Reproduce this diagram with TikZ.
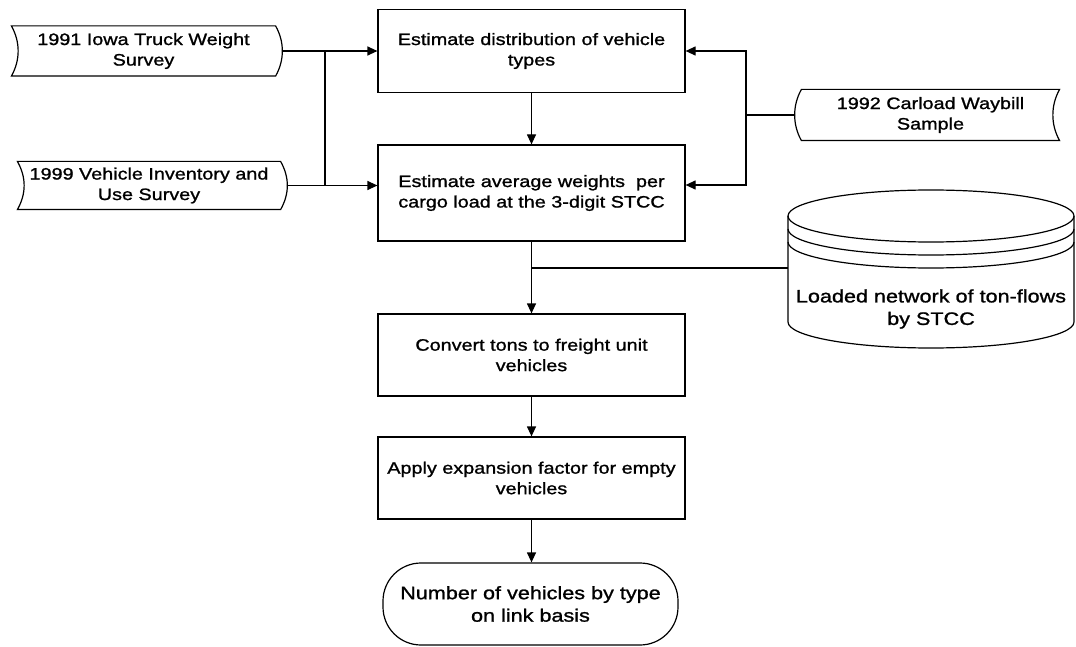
\documentclass[tikz,border=0pt]{standalone}
\usepackage{fontspec}
\setmainfont{Liberation Sans}[FakeStretch=1.2,FakeBold=1.2]
\usetikzlibrary{arrows.meta}

\newcommand\boxfont{\fontsize{16.5}{20.5}\selectfont}
\newcommand\bigfont{\fontsize{18}{22.5}\selectfont}
% outline of a data source, #2 = bulge of the sides
\newcommand\tapeshape[2]{%
  \draw (#1.north west) -- (#1.north east) .. controls +(#2,16) and +(#2,-16) .. (#1.south east)
    -- (#1.south west) .. controls +(#2,-16) and +(#2,16) .. (#1.north west) -- cycle;}

\tikzset{
  proc/.style={draw,minimum width=307pt,minimum height=83pt,align=center,font=\boxfont,inner sep=0pt},
  tape/.style={minimum width=263pt,minimum height=49pt,align=center,font=\boxfont,inner sep=0pt},
  flow/.style={-{Triangle[length=10pt,width=9pt]}},
}

\begin{document}
\begin{tikzpicture}[x=1pt,y=-1pt,line width=1.2pt]
\useasboundingbox (0,0) rectangle (1076,647);

%main column
\node[proc] (dist) at (531.5,51) {Estimate distribution of vehicle\\types};
\node[proc,minimum height=96pt] (wgt) at (531.5,193) {Estimate average weights~ per\\cargo load at the 3-digit STCC};
\node[proc,minimum height=82pt] (conv) at (531.5,355) {Convert tons to freight unit\\vehicles};
\node[proc,minimum height=82pt] (expn) at (531.5,478) {Apply expansion factor for empty\\vehicles};
\node[draw,rounded corners=38pt,minimum width=295pt,minimum height=82pt,align=center,font=\bigfont] (nveh) at (530.5,604) {Number of vehicles by type\\on link basis};

%data sources
\node[tape] (iowa) at (143.5,51) {1991 Iowa Truck Weight\\Survey};
\node[tape,minimum width=262pt,minimum height=47pt] (vius) at (149,185.5) {1999 Vehicle Inventory and\\Use Survey};
\node[tape,minimum width=257pt,minimum height=50pt] (wayb) at (930.5,115) {1992 Carload Waybill\\Sample};
\tapeshape{iowa}{9}
\tapeshape{vius}{9}
\tapeshape{wayb}{-9}

%ton-flow database
\draw (788,216) -- (788,322) arc[start angle=180,end angle=360,x radius=143pt,y radius=26pt] -- (1074,216);
\draw (931,216) ellipse [x radius=143pt,y radius=26pt];
\draw (788,229) arc[start angle=180,end angle=360,x radius=143pt,y radius=26pt];
\draw (788,242) arc[start angle=180,end angle=360,x radius=143pt,y radius=26pt];
\node[font=\bigfont,align=center] (flows) at (931,309) {Loaded network of ton-flows\\by STCC};
\coordinate (cylw) at (788,268);

%connectors
\coordinate (jl) at (325,0);
\coordinate (jr) at (746,0);
\draw[flow] ([xshift=6pt]iowa.east) -- (iowa.east -| dist.west);
\draw[flow] ([xshift=6pt]vius.east) -- (vius.east -| wgt.west);
\draw (iowa.east -| jl) -- (vius.east -| jl);
\draw ([xshift=-6pt]wayb.west) -- (wayb.west -| jr);
\draw[flow] (wayb.west -| jr) |- (dist.east);
\draw[flow] (wayb.west -| jr) |- ([yshift=8pt]wgt.east);
\draw[flow] (dist.south) -- (wgt.north);
\draw[flow] (wgt.south) -- (conv.north);
\draw (wgt.south |- cylw) -- (cylw);
\draw[flow] (conv.south) -- (expn.north);
\draw[flow] (expn.south) -- (expn.south |- nveh.north);

\end{tikzpicture}
\end{document}
